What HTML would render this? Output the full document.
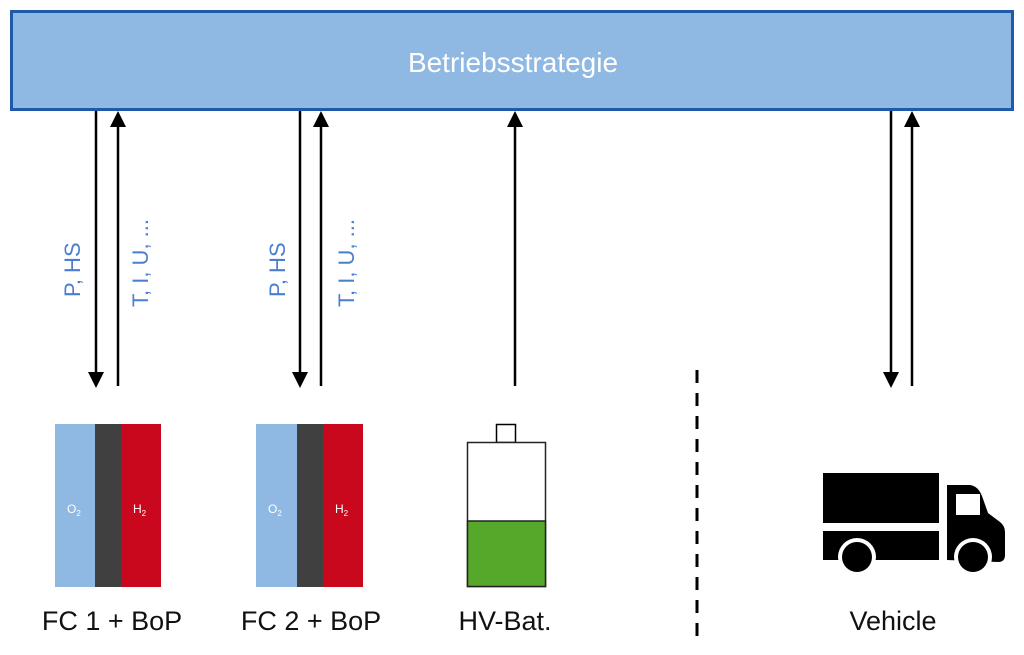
<!DOCTYPE html>
<html><head><meta charset="utf-8"><style>
body{margin:0;background:#fff;}
svg text{font-family:"Liberation Sans",sans-serif;}
</style></head><body>
<svg width="1024" height="650" viewBox="0 0 1024 650" xmlns="http://www.w3.org/2000/svg">
<rect x="11.5" y="11.5" width="1001" height="98" fill="#8fb8e3" stroke="#1f5aa8" stroke-width="3"/>
<text x="513" y="72" font-size="28" fill="#fff" text-anchor="middle">Betriebsstrategie</text>
<g stroke="#000" stroke-width="2.5" fill="none">
<line x1="96" y1="111" x2="96" y2="376"/><line x1="118" y1="386" x2="118" y2="124"/>
<line x1="300" y1="111" x2="300" y2="376"/><line x1="321" y1="386" x2="321" y2="124"/>
<line x1="515" y1="386" x2="515" y2="124"/>
<line x1="891" y1="111" x2="891" y2="376"/><line x1="912" y1="386" x2="912" y2="124"/>
<line x1="697" y1="370" x2="697" y2="646" stroke-width="3" stroke-dasharray="13,10"/>
</g>
<g fill="#000">
<path d="M88,372 L104,372 L96,388 Z"/><path d="M110,127 L126,127 L118,111 Z"/>
<path d="M292,372 L308,372 L300,388 Z"/><path d="M313,127 L329,127 L321,111 Z"/>
<path d="M507,127 L523,127 L515,111 Z"/>
<path d="M883,372 L899,372 L891,388 Z"/><path d="M904,127 L920,127 L912,111 Z"/>
</g>
<g fill="#4a7fd0" font-size="22">
<text transform="translate(80,297) rotate(-90)">P, HS</text>
<text transform="translate(148,307) rotate(-90)">T, I, U, ...</text>
<text transform="translate(285,297) rotate(-90)">P, HS</text>
<text transform="translate(354,307) rotate(-90)">T, I, U, ...</text>
</g>
<rect x="55" y="424" width="40" height="163" fill="#8fb8e3"/><rect x="95" y="424" width="26" height="163" fill="#404040"/><rect x="121" y="424" width="40" height="163" fill="#c9081e"/>
<rect x="256" y="424" width="41" height="163" fill="#8fb8e3"/><rect x="297" y="424" width="26" height="163" fill="#404040"/><rect x="323" y="424" width="40" height="163" fill="#c9081e"/>
<g fill="#fff" font-size="12">
<text x="67" y="513">O<tspan font-size="8" dy="3">2</tspan></text>
<text x="133" y="513">H<tspan font-size="8" dy="3">2</tspan></text>
<text x="268" y="513">O<tspan font-size="8" dy="3">2</tspan></text>
<text x="335" y="513">H<tspan font-size="8" dy="3">2</tspan></text>
</g>
<rect x="496.5" y="424.5" width="19" height="18" fill="#fff" stroke="#000" stroke-width="1.5"/>
<rect x="467.5" y="442.5" width="78" height="144" fill="#fff" stroke="#222" stroke-width="1.5"/>
<rect x="467.5" y="521" width="78" height="65.5" fill="#55a829" stroke="#222" stroke-width="1.5"/>
<g fill="#000">
<rect x="823" y="473" width="116" height="50"/>
<rect x="823" y="531" width="116" height="29"/>
<path d="M947,485 L970,485 Q978,486 982,496 L988,513 L1000,522 Q1005,526 1005,532 L1005,555 Q1005,562 998,562 L947,560 Z"/>
</g>
<rect x="956" y="494" width="24" height="21" fill="#fff"/>
<circle cx="857" cy="557" r="19" fill="#fff"/><circle cx="857" cy="557" r="15" fill="#000"/>
<circle cx="973" cy="557" r="19" fill="#fff"/><circle cx="973" cy="557" r="15" fill="#000"/>
<g font-size="27" fill="#111" text-anchor="middle">
<text x="112" y="630">FC 1 + BoP</text>
<text x="311" y="630">FC 2 + BoP</text>
<text x="505" y="630">HV-Bat.</text>
<text x="893" y="630">Vehicle</text>
</g>
</svg>
</body></html>
